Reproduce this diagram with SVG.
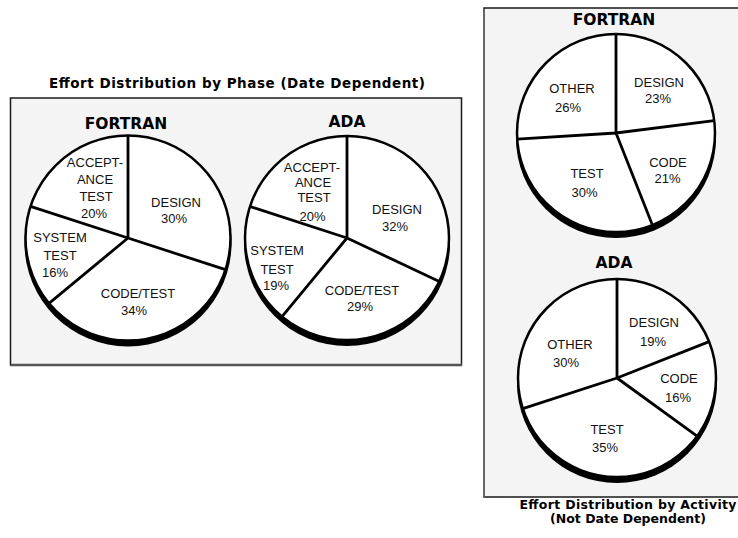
<svg xmlns="http://www.w3.org/2000/svg" width="738" height="538" viewBox="0 0 738 538">
<style>
.panel{fill:#f4f4f4;stroke:#1a1a1a;stroke-width:1.5}
.edge{stroke:#555;stroke-width:2.5}
.shadow{fill:#000}
.face{fill:#fff;stroke:#000;stroke-width:2.5}
.cut{stroke:#000;stroke-width:2.8;fill:none}
.lbl{font-family:"Liberation Sans",Arial,sans-serif;font-size:13px;fill:#111;text-anchor:middle}
.hd{font-family:"DejaVu Sans",sans-serif;font-weight:bold;font-size:15.5px;text-anchor:middle;fill:#000}
.ttl{font-family:"DejaVu Sans",sans-serif;font-weight:bold;font-size:12.5px;text-anchor:middle;fill:#000}
</style>

<g id="phase-panel">
<text class="ttl" x="237" y="88" style="font-size:13.5px" textLength="376">Effort Distribution by Phase (Date Dependent)</text>
<rect class="panel" x="10.5" y="98" width="451" height="267"/>
<line class="edge" x1="10.5" y1="365" x2="462" y2="365"/>
</g>

<g id="phase-fortran">
<text class="hd" x="126" y="129">FORTRAN</text>
<circle class="shadow" cx="128" cy="243" r="103.5"/>
<circle class="face" cx="128" cy="238" r="102.5"/>
<path class="cut" d="M128,238 L128,135.5 M128,238 L225.5,269.7 M128,238 L49,303.3 M128,238 L30.5,206.3"/>
<text class="lbl" x="95" y="167">ACCEPT-</text>
<text class="lbl" x="95" y="184">ANCE</text>
<text class="lbl" x="96" y="201">TEST</text>
<text class="lbl" x="94" y="218">20%</text>
<text class="lbl" x="176" y="207">DESIGN</text>
<text class="lbl" x="174" y="223">30%</text>
<text class="lbl" x="60" y="242">SYSTEM</text>
<text class="lbl" x="60" y="260">TEST</text>
<text class="lbl" x="55" y="277">16%</text>
<text class="lbl" x="138" y="298">CODE/TEST</text>
<text class="lbl" x="134" y="315">34%</text>
</g>

<g id="phase-ada">
<text class="hd" x="347" y="127">ADA</text>
<circle class="shadow" cx="347" cy="243" r="103"/>
<circle class="face" cx="347" cy="238" r="102"/>
<path class="cut" d="M347,238 L347,136 M347,238 L439.3,281.4 M347,238 L282,316.6 M347,238 L250,206.5"/>
<text class="lbl" x="312" y="172">ACCEPT-</text>
<text class="lbl" x="313" y="187">ANCE</text>
<text class="lbl" x="314" y="202">TEST</text>
<text class="lbl" x="312.5" y="221">20%</text>
<text class="lbl" x="397" y="214">DESIGN</text>
<text class="lbl" x="395" y="231">32%</text>
<text class="lbl" x="277" y="255">SYSTEM</text>
<text class="lbl" x="277" y="274">TEST</text>
<text class="lbl" x="276" y="290">19%</text>
<text class="lbl" x="362" y="295">CODE/TEST</text>
<text class="lbl" x="360" y="311">29%</text>
</g>

<g id="activity-panel">
<rect class="panel" x="484" y="8" width="262" height="489"/>
<line x1="484" y1="9" x2="484" y2="497" stroke="#666" stroke-width="2"/>
<text class="ttl" x="628" y="509" textLength="217">Effort Distribution by Activity</text>
<text class="ttl" x="628" y="523">(Not Date Dependent)</text>
</g>

<g id="activity-fortran">
<text class="hd" x="614" y="25">FORTRAN</text>
<circle class="shadow" cx="616" cy="138" r="100"/>
<circle class="face" cx="616" cy="133" r="99"/>
<path class="cut" d="M616,133 L616,34 M616,133 L714.2,120.6 M616,133 L652.4,225.1 M616,133 L517.2,139.2"/>
<text class="lbl" x="572" y="93">OTHER</text>
<text class="lbl" x="568" y="112">26%</text>
<text class="lbl" x="659" y="87">DESIGN</text>
<text class="lbl" x="658" y="103">23%</text>
<text class="lbl" x="668" y="167">CODE</text>
<text class="lbl" x="667.5" y="183">21%</text>
<text class="lbl" x="587" y="178">TEST</text>
<text class="lbl" x="584.5" y="197">30%</text>
</g>

<g id="activity-ada">
<text class="hd" x="614" y="268">ADA</text>
<circle class="shadow" cx="617" cy="383" r="100"/>
<circle class="face" cx="617" cy="378" r="99"/>
<path class="cut" d="M617,378 L617,279 M617,378 L709.1,341.6 M617,378 L697.1,436.2 M617,378 L522.8,408.6"/>
<text class="lbl" x="654" y="327">DESIGN</text>
<text class="lbl" x="653" y="346">19%</text>
<text class="lbl" x="570" y="349">OTHER</text>
<text class="lbl" x="566" y="367">30%</text>
<text class="lbl" x="679" y="383">CODE</text>
<text class="lbl" x="678" y="402">16%</text>
<text class="lbl" x="607" y="434">TEST</text>
<text class="lbl" x="605" y="452">35%</text>
</g>

<g id="connectors"></g>
</svg>
